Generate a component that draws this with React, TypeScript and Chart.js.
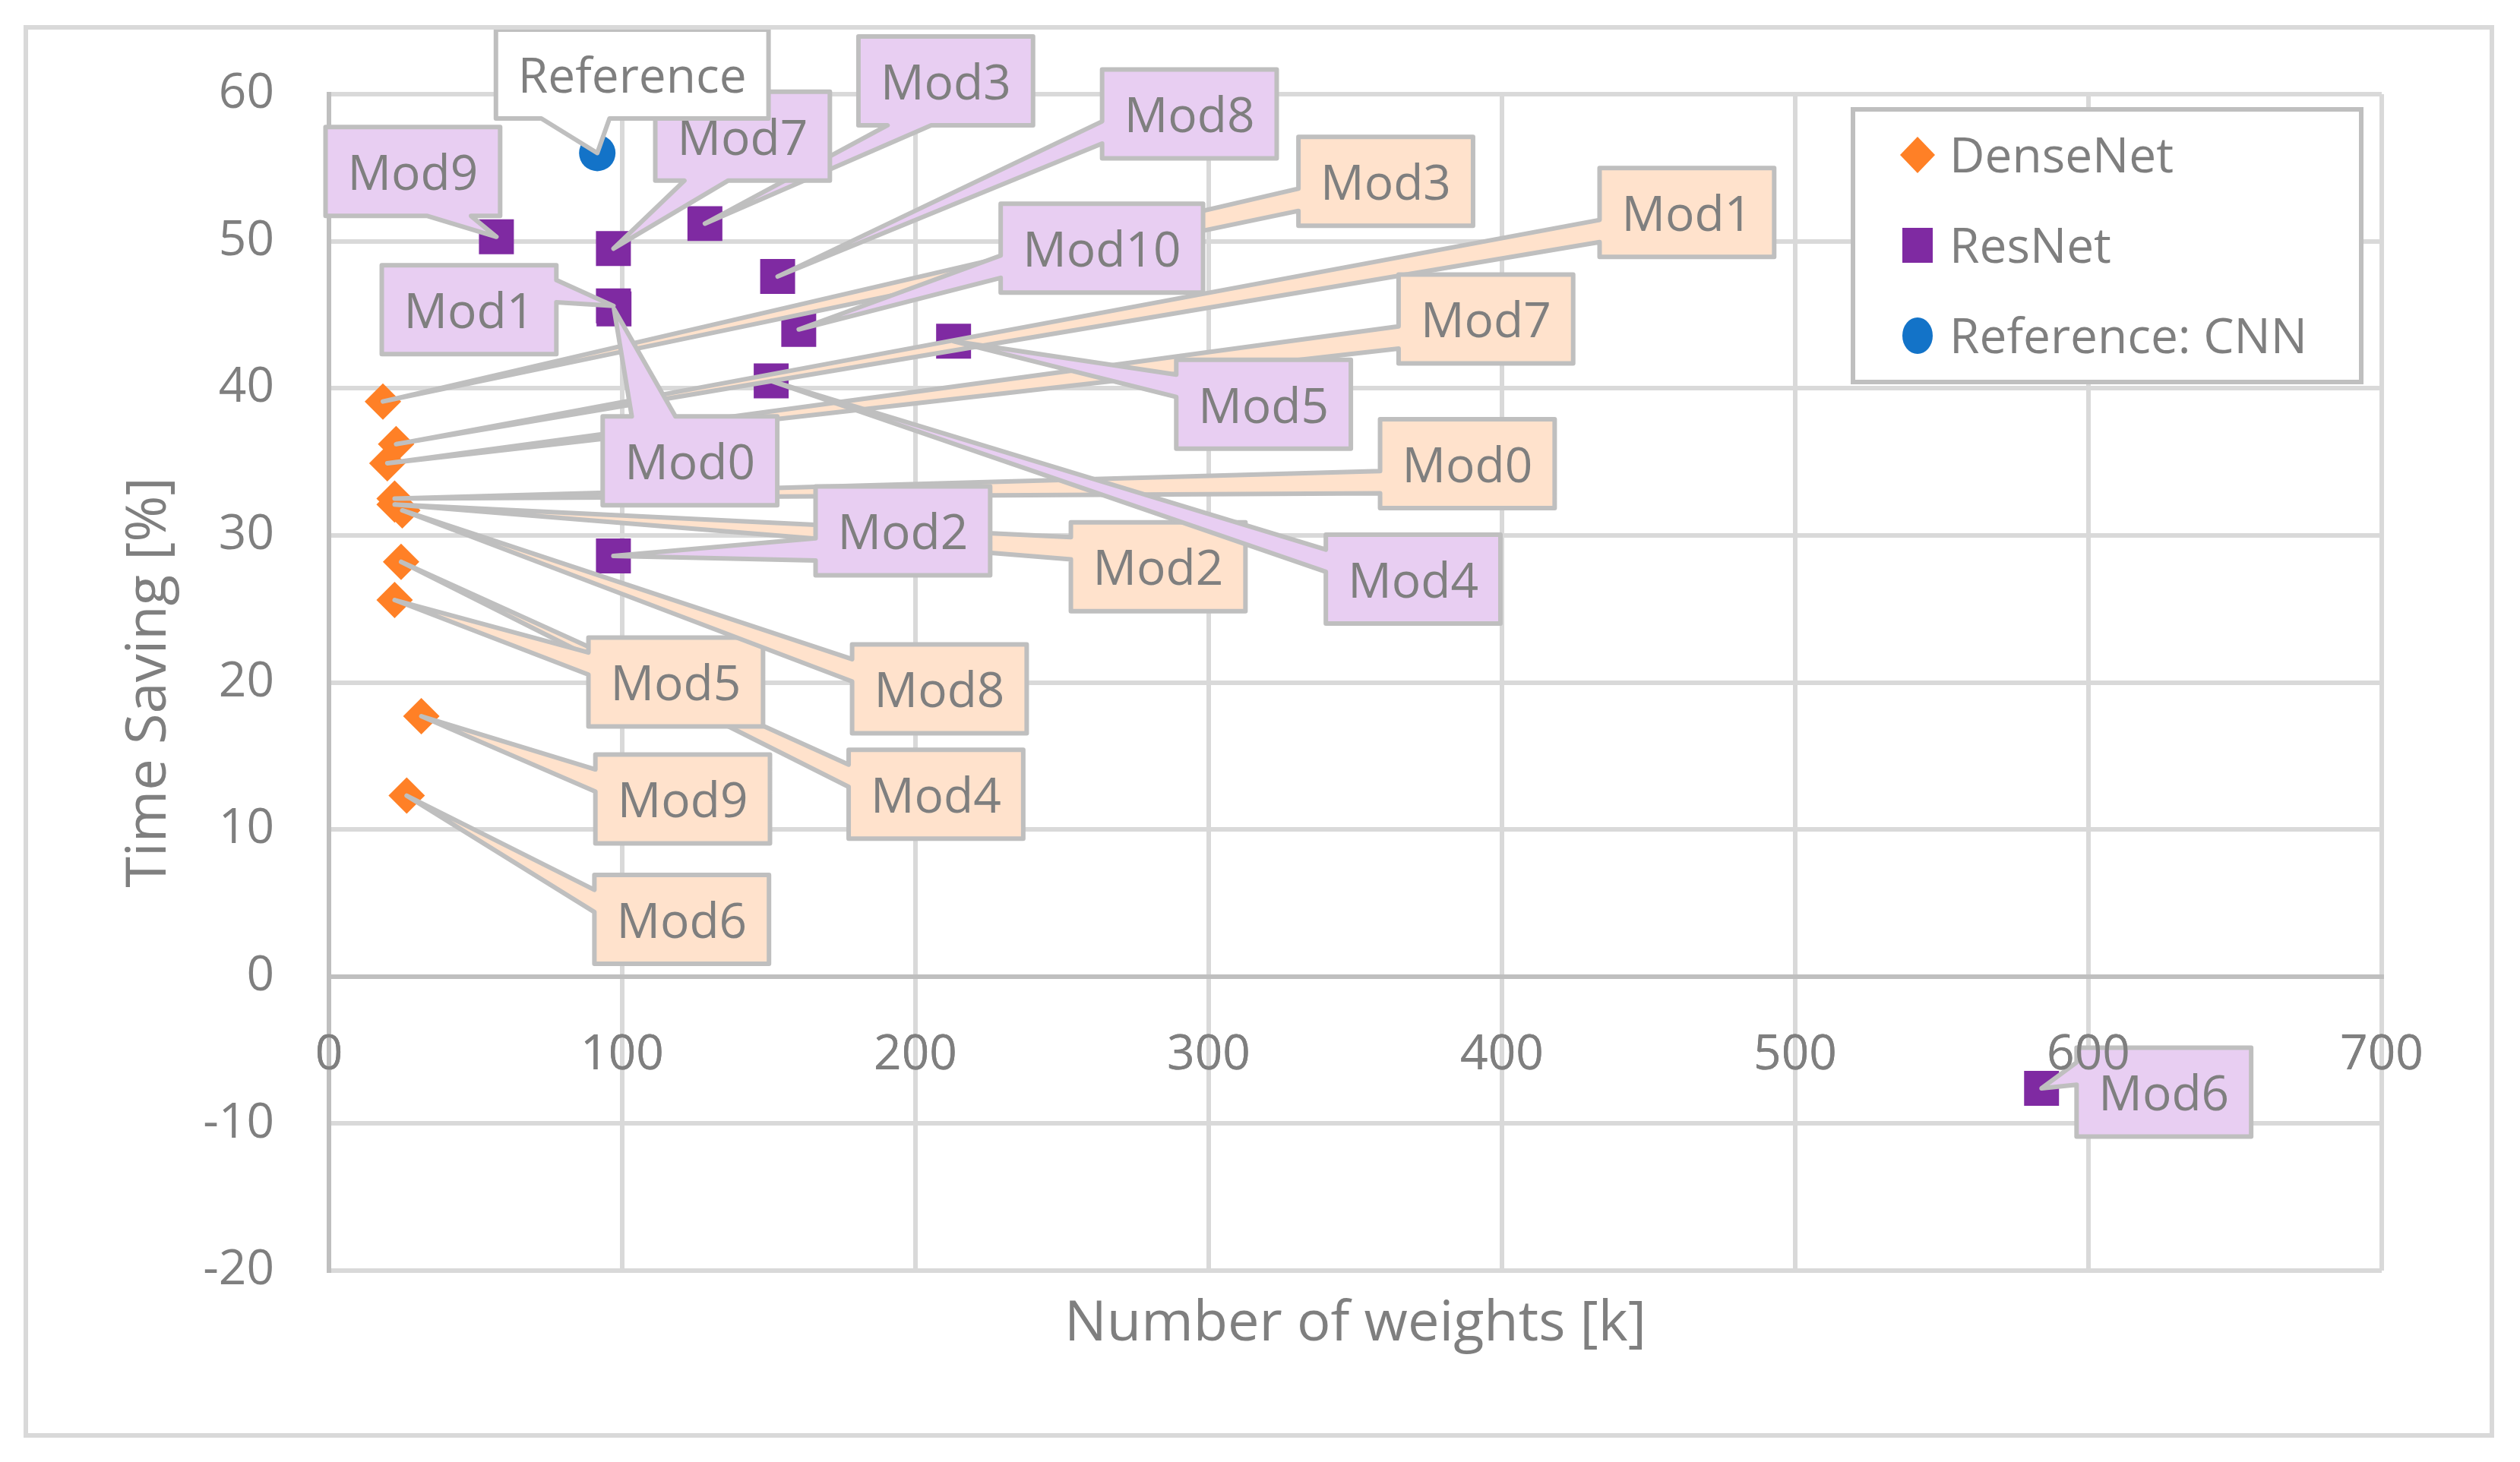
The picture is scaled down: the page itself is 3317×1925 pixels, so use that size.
import { useEffect, useRef } from 'react';
import { Chart, registerables } from 'chart.js';

Chart.register(...registerables);

// DenseNet models (x = weights [k], y = time saving [%])
const denseNames = ['Mod0', 'Mod1', 'Mod2', 'Mod3', 'Mod4', 'Mod5', 'Mod6', 'Mod7', 'Mod8', 'Mod9'];
const denseWeights = [22.4, 22.9, 22.4, 18.4, 24.6, 22.4, 26.5, 19.9, 25.0, 31.5];
const denseSaving = [32.5, 36.2, 32.1, 39.1, 28.2, 25.6, 12.3, 34.9, 31.7, 17.7];

// ResNet models
const resNames = ['Mod0', 'Mod1', 'Mod2', 'Mod3', 'Mod4', 'Mod5', 'Mod6', 'Mod7', 'Mod8', 'Mod9', 'Mod10'];
const resWeights = [97.2, 97.0, 97.0, 128.2, 150.8, 213.0, 584.0, 97.0, 153.0, 57.1, 160.2];
const resSaving = [45.4, 45.6, 28.6, 51.2, 40.5, 43.2, -7.6, 49.5, 47.6, 50.3, 44.0];

// reference CNN
const refNames = ['Reference'];
const refWeights = [91.5];
const refSaving = [56.0];

const xTicks = [0, 100, 200, 300, 400, 500, 600, 700];
const yTicks = [-20, -10, 0, 10, 20, 30, 40, 50, 60];

// where each callout box sits, as pixel offset of the box centre from its point
const denseLabelShift = [[1412, -46], [1699, -305], [1005, 82], [1320, -290], [704, 306], [370, 108], [362, 163], [1446, -190], [707, 235], [344, 109]];
const resLabelShift = [[100, 200], [-190, 5], [381, -33], [317, -188], [845, 261], [408, 83], [161, 5], [170, -148], [542, -214], [-110, -86], [399, -107]];
const refLabelShift = [[46, -104]];

const FONT = '"Open Sans", "Noto Sans", sans-serif';
const TEXT = '#7F7F7F';
const LINE = '#BFBFBF';
const GRID = '#D9D9D9';
const ORANGE = '#FF8026';
const PURPLE = '#7F2AA2';
const BLUE = '#1373C8';

const callouts = [
  { names: denseNames, shift: denseLabelShift, fill: '#FFE2CC' },
  { names: resNames, shift: resLabelShift, fill: '#E8CEF2' },
  { names: refNames, shift: refLabelShift, fill: '#FFFFFF' },
];

// rectangle callout with a wedge, same rules as Office's wedgeRectCallout
function calloutPath(ctx: CanvasRenderingContext2D, l: number, t: number, w: number, h: number, px: number, py: number) {
  const r = l + w, b = t + h;
  const dx = px - (l + w / 2);
  const dy = py - (t + h / 2);
  const vertical = Math.abs(dy) > Math.abs(dx * h / w);
  const x1 = l + w * (dx > 0 ? 7 : 2) / 12;
  const x2 = l + w * (dx > 0 ? 10 : 5) / 12;
  const y1 = t + h * (dy > 0 ? 7 : 2) / 12;
  const y2 = t + h * (dy > 0 ? 10 : 5) / 12;
  ctx.beginPath();
  ctx.moveTo(l, t);
  if (vertical && dy < 0) { ctx.lineTo(x1, t); ctx.lineTo(px, py); ctx.lineTo(x2, t); }
  ctx.lineTo(r, t);
  if (!vertical && dx > 0) { ctx.lineTo(r, y1); ctx.lineTo(px, py); ctx.lineTo(r, y2); }
  ctx.lineTo(r, b);
  if (vertical && dy > 0) { ctx.lineTo(x2, b); ctx.lineTo(px, py); ctx.lineTo(x1, b); }
  ctx.lineTo(l, b);
  if (!vertical && dx <= 0) { ctx.lineTo(l, y2); ctx.lineTo(px, py); ctx.lineTo(l, y1); }
  ctx.closePath();
}

const calloutPlugin = {
  id: 'callouts',
  afterDatasetsDraw(chart: Chart) {
    const ctx = chart.ctx;
    ctx.save();
    ctx.font = `64px ${FONT}`;
    ctx.lineWidth = 6;
    ctx.lineJoin = 'round';
    ctx.strokeStyle = LINE;
    callouts.forEach((c, di) => {
      const meta = chart.getDatasetMeta(di);
      meta.data.forEach((pt: any, i: number) => {
        const name = c.names[i];
        const w = ctx.measureText(name).width + 58;
        const h = 117;
        const cx = pt.x + c.shift[i][0];
        const cy = pt.y + c.shift[i][1];
        calloutPath(ctx, cx - w / 2, cy - h / 2, w, h, pt.x, pt.y);
        ctx.fillStyle = c.fill;
        ctx.fill();
        ctx.stroke();
        ctx.fillStyle = TEXT;
        ctx.textAlign = 'center';
        ctx.textBaseline = 'middle';
        ctx.fillText(name, cx, cy + 6);
      });
    });
    ctx.restore();
    // axis numbers sit on top of the callouts
    (chart.scales.x as any).drawLabels(chart.chartArea);
  },
};

const decorPlugin = {
  id: 'decor',
  afterDraw(chart: Chart) {
    const ctx = chart.ctx;
    const area = chart.chartArea;
    ctx.save();
    // outer frame
    ctx.strokeStyle = GRID;
    ctx.lineWidth = 6;
    ctx.strokeRect(34, 36, 3246, 1854);

    // axis titles
    ctx.fillStyle = TEXT;
    ctx.font = `74px ${FONT}`;
    ctx.textAlign = 'center';
    ctx.textBaseline = 'alphabetic';
    ctx.fillText('Number of weights [k]', (area.left + area.right) / 2, 1765);
    ctx.save();
    ctx.translate(218, (area.top + area.bottom) / 2);
    ctx.rotate(-Math.PI / 2);
    ctx.fillText('Time Saving [%]', 0, 0);
    ctx.restore();

    // legend
    ctx.fillStyle = '#FFFFFF';
    ctx.strokeStyle = LINE;
    ctx.lineWidth = 6;
    ctx.fillRect(2439, 144, 669, 359);
    ctx.strokeRect(2439, 144, 669, 359);
    const items = [
      { text: 'DenseNet', color: ORANGE, style: 'diamond' },
      { text: 'ResNet', color: PURPLE, style: 'square' },
      { text: 'Reference: CNN', color: BLUE, style: 'circle' },
    ];
    ctx.font = `64px ${FONT}`;
    ctx.textAlign = 'left';
    ctx.textBaseline = 'middle';
    items.forEach((it, i) => {
      const y = 204 + i * 119;
      const x = 2524;
      ctx.fillStyle = it.color;
      ctx.beginPath();
      if (it.style === 'diamond') {
        ctx.moveTo(x - 23, y); ctx.lineTo(x, y - 24); ctx.lineTo(x + 23, y); ctx.lineTo(x, y + 24); ctx.closePath();
      } else if (it.style === 'square') {
        ctx.rect(x - 20, y - 23, 40, 46);
      } else {
        ctx.ellipse(x, y, 20, 24, 0, 0, Math.PI * 2);
      }
      ctx.fill();
      ctx.fillStyle = TEXT;
      ctx.fillText(it.text, 2566, y + 5);
    });
    ctx.restore();
  },
};

function toPoints(xs: number[], ys: number[]) {
  return xs.map((x, i) => ({ x, y: ys[i] }));
}

export default function App() {
  const canvasRef = useRef<HTMLCanvasElement>(null);

  useEffect(() => {
    const canvas = canvasRef.current;
    if (!canvas) return;
    const gridColor = (c: any) => (c.tick && c.tick.value === 0 ? 'rgba(0,0,0,0)' : GRID);
    const chart = new Chart(canvas, {
      type: 'scatter',
      data: {
        datasets: [
          {
            label: 'DenseNet',
            data: toPoints(denseWeights, denseSaving),
            pointStyle: 'rectRot',
            pointRadius: 24,
            backgroundColor: ORANGE,
            borderWidth: 0,
          },
          {
            label: 'ResNet',
            data: toPoints(resWeights, resSaving),
            pointStyle: 'rect',
            pointRadius: 32.5,
            backgroundColor: PURPLE,
            borderWidth: 0,
          },
          {
            label: 'Reference: CNN',
            data: toPoints(refWeights, refSaving),
            pointStyle: 'circle',
            pointRadius: 24,
            backgroundColor: BLUE,
            borderWidth: 0,
          },
        ],
      },
      options: {
        animation: false,
        responsive: true,
        maintainAspectRatio: false,
        devicePixelRatio: 1,
        events: [],
        layout: { padding: { left: 0, top: 124, right: 182, bottom: 252 } },
        scales: {
          x: {
            type: 'linear',
            position: { y: 0 } as any,
            min: xTicks[0],
            max: xTicks[xTicks.length - 1],
            afterBuildTicks: (s: any) => { s.ticks = xTicks.map((v) => ({ value: v })); },
            ticks: { color: TEXT, font: { family: FONT, size: 64 }, padding: 66, maxRotation: 0 },
            grid: { color: gridColor, lineWidth: 6, drawTicks: false },
            border: { color: LINE, width: 6 },
          },
          y: {
            type: 'linear',
            min: yTicks[0],
            max: yTicks[yTicks.length - 1],
            afterBuildTicks: (s: any) => { s.ticks = yTicks.map((v) => ({ value: v })); },
            afterFit: (s: any) => { s.width = 433; },
            ticks: { color: TEXT, font: { family: FONT, size: 64 }, padding: 72 },
            grid: { color: gridColor, lineWidth: 6, drawTicks: false },
            border: { color: LINE, width: 6 },
          },
        },
        plugins: {
          legend: { display: false },
          tooltip: { enabled: false },
        },
      },
      plugins: [calloutPlugin, decorPlugin],
    });
    return () => {
      chart.destroy();
    };
  }, []);

  return (
    <div style={{ position: 'absolute', left: 0, top: 0, width: 3317, height: 1925, background: '#FFFFFF' }}>
      <canvas ref={canvasRef} />
    </div>
  );
}
